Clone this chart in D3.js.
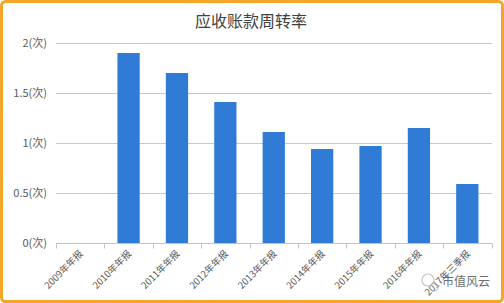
<!DOCTYPE html>
<html><head><meta charset="utf-8">
<script src="https://cdn.jsdelivr.net/npm/d3@7/dist/d3.min.js"></script>
<style>
html,body{margin:0;padding:0;background:#fff;}
svg{display:block;}
</style></head>
<body>
<script>
const categories = ["2009年年报","2010年年报","2011年年报","2012年年报","2013年年报","2014年年报","2015年年报","2016年年报","2017年三季报"];
const values = [0, 1.90, 1.70, 1.41, 1.11, 0.94, 0.97, 1.15, 0.59];
const yTicks = [0, 0.5, 1, 1.5, 2];
const yTickLabels = ["0(次)","0.5(次)","1(次)","1.5(次)","2(次)"];
const title = "应收账款周转率";
const watermark = "市值风云";

const W = 504, H = 303;
const svg = d3.select("body").append("svg").attr("width", W).attr("height", H);
const font = "'Noto Sans CJK SC','Open Sans',sans-serif";

svg.append("rect").attr("x",1.5).attr("y",1.5).attr("width",W-3).attr("height",H-3)
  .attr("rx",4).attr("fill","#fff").attr("stroke","#f4a62a").attr("stroke-width",3);

const x = d3.scaleBand().domain(categories).range([56, 491.5]).paddingInner(0.54).paddingOuter(0.27);
const y = d3.scaleLinear().domain([0,2]).range([243, 43]);

// gridlines
svg.append("g").selectAll("line").data(yTicks.filter(d=>d>0)).join("line")
  .attr("x1",56).attr("x2",492).attr("y1",d=>y(d)+0.5).attr("y2",d=>y(d)+0.5)
  .attr("stroke","#c9c9c9").attr("stroke-width",1);

// y labels
svg.append("g").selectAll("text").data(yTicks).join("text")
  .attr("x",47).attr("y",d=>y(d)).attr("dy","0.35em").attr("text-anchor","end")
  .attr("font-family",font).attr("font-size",11).attr("fill","#595959")
  .text((d,i)=>yTickLabels[i]);

// bars
svg.append("g").selectAll("rect").data(values).join("rect")
  .attr("x",(d,i)=>x(categories[i])).attr("width",x.bandwidth())
  .attr("y",d=>y(d)).attr("height",d=>y(0)-y(d)).attr("fill","#2f7bd6");

// x axis
const gx = svg.append("g").attr("transform",`translate(0,${y(0)+0.5})`);
gx.append("line").attr("x1",56).attr("x2",492).attr("stroke","#c4c4c4");
const tickPos = d3.range(categories.length+1).map(i=>56 + i*(491.5-56)/categories.length);
gx.selectAll("line.t").data(tickPos).join("line").attr("class","t")
  .attr("x1",d=>Math.round(d)+0.5).attr("x2",d=>Math.round(d)+0.5).attr("y1",0).attr("y2",5)
  .attr("stroke","#c4c4c4");

svg.append("g").selectAll("text").data(categories).join("text")
  .attr("transform",d=>`translate(${x(d)+x.bandwidth()/2+1},${y(0)+9}) rotate(-45)`)
  .attr("text-anchor","end").attr("dy","0.35em")
  .attr("font-family",font).attr("font-size",9.5).attr("fill","#595959")
  .text(d=>d);

// title
svg.append("text").attr("x",251).attr("y",21).attr("dy","0.35em").attr("text-anchor","middle")
  .attr("font-family",font).attr("font-size",16).attr("fill","#404040").text(title);

// watermark
const wm = svg.append("g").attr("opacity",0.85);
wm.append("circle").attr("cx",428).attr("cy",280).attr("r",6).attr("fill","none").attr("stroke","#bbb").attr("stroke-width",1.2);
wm.append("circle").attr("cx",434).attr("cy",287).attr("r",4).attr("fill","none").attr("stroke","#bbb").attr("stroke-width",1.2);
wm.append("text").attr("x",442).attr("y",282).attr("dy","0.35em")
  .attr("font-family",font).attr("font-size",12).attr("fill","#555").text(watermark);
</script>
</body></html>
